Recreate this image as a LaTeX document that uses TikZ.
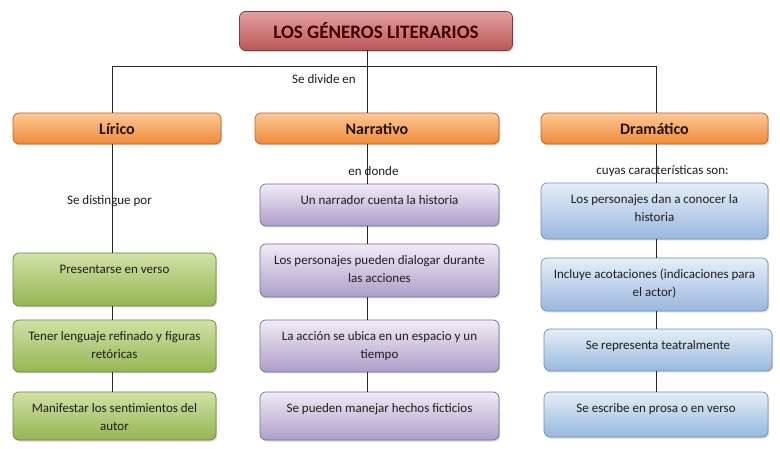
\documentclass[tikz,border=0pt]{standalone}
\usepackage{fontspec}
\setmainfont{Carlito}
\usetikzlibrary{calc,shadows}
\definecolor{redtop}{RGB}{228,160,160}
\definecolor{redmid}{RGB}{204,108,108}
\definecolor{redbot}{RGB}{186,86,86}
\definecolor{redline}{RGB}{120,58,58}
\definecolor{ortop}{RGB}{252,200,150}
\definecolor{ormid}{RGB}{247,154,76}
\definecolor{orbot}{RGB}{240,138,56}
\definecolor{orline}{RGB}{176,104,46}
\definecolor{grtop}{RGB}{208,226,166}
\definecolor{grbot}{RGB}{150,181,84}
\definecolor{grline}{RGB}{108,136,58}
\definecolor{putop}{RGB}{240,236,246}
\definecolor{pubot}{RGB}{174,158,202}
\definecolor{puline}{RGB}{124,108,152}
\definecolor{bltop}{RGB}{230,238,248}
\definecolor{blbot}{RGB}{152,184,222}
\definecolor{blline}{RGB}{118,144,180}
\definecolor{textgray}{RGB}{30,30,30}

\begin{document}
\begin{tikzpicture}[x=1pt, y=-1pt,
    every node/.style={font=\fontsize{13}{18}\selectfont, text=textgray},
    box/.style={rounded corners=6pt, inner sep=0pt, outer sep=0pt, line width=0.7pt,
        drop shadow={shadow xshift=1.2pt, shadow yshift=-1.5pt, opacity=0.3}},
    titlebox/.style={box, draw=redline, top color=redtop, middle color=redmid, bottom color=redbot,
        font=\fontsize{19}{21}\bfseries, text=red!25!black},
    genbox/.style={box, draw=orline, top color=ortop, middle color=ormid, bottom color=orbot,
        font=\fontsize{16}{18}\bfseries, text=orange!15!black},
    grbox/.style={box, draw=grline, top color=grtop, bottom color=grbot},
    pubox/.style={box, draw=puline, top color=putop, bottom color=pubot},
    blbox/.style={box, draw=blline, top color=bltop, bottom color=blbot},
    boxtext/.style={anchor=north, align=center, inner sep=0pt},
    link/.style={draw=black!85, line width=0.8pt}]
\useasboundingbox (0,0) rectangle (780,449);
\fill[white] (0,0) rectangle (780,449);

% title and the three genres
\node[titlebox, minimum width=273pt, minimum height=39pt] (title) at (376,31) {LOS GÉNEROS LITERARIOS};
\node[genbox, minimum width=208pt, minimum height=31pt] (lir) at (117,128.5) {Lírico};
\node[genbox, minimum width=244pt, minimum height=31pt] (nar) at (377,128.5) {Narrativo};
\node[genbox, minimum width=227pt, minimum height=31pt] (dra) at (654.5,128.5) {Dramático};

\coordinate (lx) at (112,66);
\coordinate (nx) at (367.5,66);
\coordinate (dx) at (656,66);

% Lirico column
\foreach \l/\r/\t/\b/\txt [count=\i] in {13/216/253/306/{Presentarse en verso},
    13/216/320/372/{Tener lenguaje refinado y figuras\\retóricas},
    13/216/392/440/{Manifestar los sentimientos del\\autor}} {
    \node[grbox, minimum width={(\r-\l)*1pt}, minimum height={(\b-\t)*1pt}] (l\i) at ({(\l+\r)/2},{(\t+\b)/2}) {};
    \node[boxtext] (lt\i) at ([yshift=-7.5pt]l\i.north) {\strut\txt};
}
% Narrativo column
\foreach \l/\r/\t/\b/\txt [count=\i] in {260/499/184/226/{Un narrador cuenta la historia},
    260/499/244/297/{Los personajes pueden dialogar durante\\las acciones},
    260/499/320/372/{La acción se ubica en un espacio y un\\tiempo},
    260/499/392/440/{Se pueden manejar hechos ficticios}} {
    \node[pubox, minimum width={(\r-\l)*1pt}, minimum height={(\b-\t)*1pt}] (n\i) at ({(\l+\r)/2},{(\t+\b)/2}) {};
    \node[boxtext] (nt\i) at ([yshift=-7.5pt]n\i.north) {\strut\txt};
}
% Dramatico column
\foreach \l/\r/\t/\b/\txt [count=\i] in {541/768/183/239/{Los personajes dan a conocer la\\historia},
    541/768/258/311/{Incluye acotaciones (indicaciones para\\el actor)},
    544/772/329/371/{Se representa teatralmente},
    544/768/392/437/{Se escribe en prosa o en verso}} {
    \node[blbox, minimum width={(\r-\l)*1pt}, minimum height={(\b-\t)*1pt}] (d\i) at ({(\l+\r)/2},{(\t+\b)/2}) {};
    \node[boxtext] (dt\i) at ([yshift=-7.5pt]d\i.north) {\strut\txt};
}

% connectors
\draw[link] (title.south -| nx) -- (nar.north -| nx);
\draw[link] (lir.north -| lx) -- (lx) -- (dx) -- (dra.north -| dx);
\draw[link] (lir.south -| lx) -- (l1.north -| lx);
\draw[link] (nar.south -| nx) -- (n1.north -| nx);
\draw[link] (dra.south -| dx) -- (d1.north -| dx);
\foreach \i/\j in {1/2,2/3} {
    \draw[link] (l\i.south -| lx) -- (l\j.north -| lx);
}
\foreach \i/\j in {1/2,2/3,3/4} {
    \draw[link] (n\i.south -| nx) -- (n\j.north -| nx);
    \draw[link] (d\i.south -| dx) -- (d\j.north -| dx);
}

% link words
\node (divide) at (324,79) {Se divide en};
\node (distingue) at (109.5,201) {Se distingue por};
\node (donde) at (373.5,171) {en donde};
\node (cuyas) at (662.5,171) {cuyas características son:};
\end{tikzpicture}
\end{document}
